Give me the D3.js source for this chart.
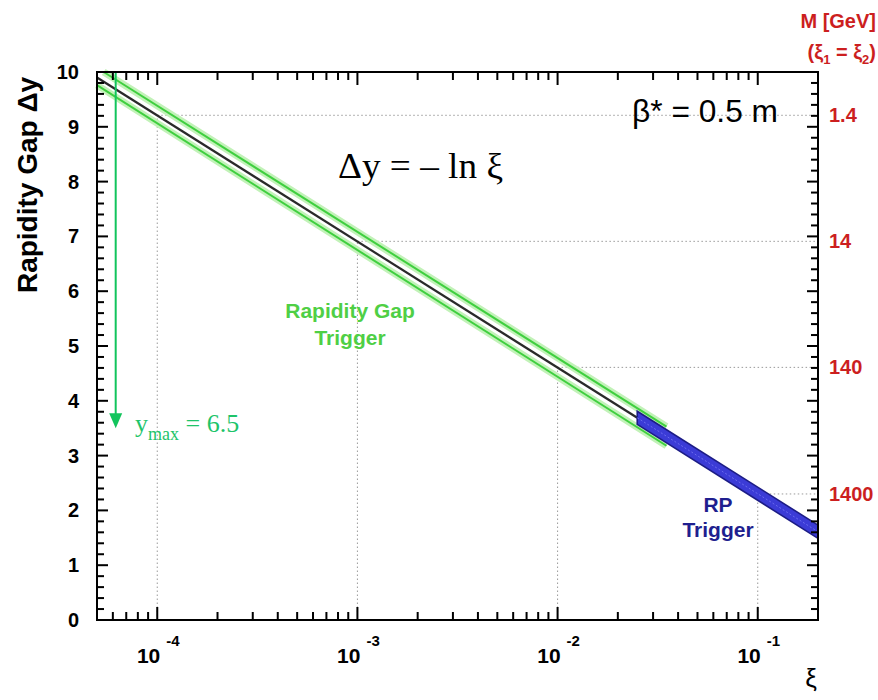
<!DOCTYPE html>
<html><head><meta charset="utf-8">
<script src="https://cdn.jsdelivr.net/npm/d3@7"></script>
<style>body{margin:0;background:#fff}svg{display:block}</style>
</head><body>
<svg id="c" width="878" height="700"></svg>
<script>
// ---- data ----
const xDomain = [5e-5, 0.2];
const yDomain = [0, 10];
const yTicks = [0,1,2,3,4,5,6,7,8,9,10];
const yMinorTicks = [0.2,0.4,0.6,0.8,1.2,1.4,1.6,1.8,2.2,2.4,2.6,2.8,3.2,3.4,3.6,3.8,4.2,4.4,4.6,4.8,5.2,5.4,5.6,5.8,6.2,6.4,6.6,6.8,7.2,7.4,7.6,7.8,8.2,8.4,8.6,8.8,9.2,9.4,9.6,9.8];
const decades = [1e-4, 1e-3, 1e-2, 1e-1];
const xMinorTicks = [6e-5,7e-5,8e-5,9e-5,2e-4,3e-4,4e-4,5e-4,6e-4,7e-4,8e-4,9e-4,2e-3,3e-3,4e-3,5e-3,6e-3,7e-3,8e-3,9e-3,2e-2,3e-2,4e-2,5e-2,6e-2,7e-2,8e-2,9e-2];
const decadeExp = ["-4", "-3", "-2", "-1"];
const decadeDy = [9.21, 6.91, 4.61, 2.30];          // Δy at each decade
const massLabels = ["1.4", "14", "140", "1400"];     // M [GeV] at each decade
// black line Δy = -ln ξ (read endpoints)
const lineXi = [5e-5, 0.025];
const lineDy = [9.90, 3.69];
// green band (rapidity gap trigger) edges
const greenUpXi = [5.4e-5, 0.035];
const greenUpDy = [10.0, 3.53];
const greenLoXi = [5e-5, 0.035];
const greenLoDy = [9.76, 3.18];
// blue band (RP trigger)
const blueXi = [0.025, 0.2];
const blueUpDy = [3.81, 1.73];
const blueLoDy = [3.57, 1.49];
// y_max arrow
const arrowXi = 6.2e-5;
const arrowDy = [10, 3.5];

const svg = d3.select("#c");
const L = 97, R = 818, T = 72, B = 620;
const x = d3.scaleLog().domain(xDomain).range([L, R]);
const y = d3.scaleLinear().domain(yDomain).range([B, T]);

const gridC = "#9a9a9a";
decades.forEach((d,i)=>{
  svg.append("line").attr("x1",x(d)).attr("x2",x(d)).attr("y1",B).attr("y2",y(decadeDy[i]))
    .attr("stroke",gridC).attr("stroke-width",1).attr("stroke-dasharray","1.5,2.5");
  svg.append("line").attr("x1",x(d)).attr("x2",R).attr("y1",y(decadeDy[i])).attr("y2",y(decadeDy[i]))
    .attr("stroke",gridC).attr("stroke-width",1).attr("stroke-dasharray","1.5,2.5");
});

const ln = d3.line().x(d=>x(d[0])).y(d=>y(d[1]));
[[greenUpXi,greenUpDy],[greenLoXi,greenLoDy]].forEach(([xs,ys])=>{
  const pts = xs.map((v,i)=>[v,ys[i]]);
  svg.append("path").attr("d",ln(pts)).attr("stroke","#c2f2b8").attr("stroke-width",7).attr("fill","none");
  svg.append("path").attr("d",ln(pts)).attr("stroke","#3fcf3f").attr("stroke-width",2).attr("fill","none");
});
svg.append("path").attr("d",ln(lineXi.map((v,i)=>[v,lineDy[i]])))
  .attr("stroke","#2a2a2a").attr("stroke-width",2.2).attr("fill","none");
const bandPts = blueXi.map((v,i)=>[v,blueUpDy[i]]).concat(blueXi.slice().reverse().map((v,i)=>[v,blueLoDy[blueXi.length-1-i]]));
svg.append("path").attr("d",ln(bandPts)+"Z").attr("fill","#3b3bd6").attr("stroke","#1c1c86").attr("stroke-width",1.6);
svg.append("path").attr("d",ln(blueXi.map((v,i)=>[v,(blueUpDy[i]+blueLoDy[i])/2])))
  .attr("stroke","#6a6aee").attr("stroke-width",1).attr("stroke-dasharray","2,2").attr("fill","none");

const ax = x(arrowXi);
svg.append("line").attr("x1",ax).attr("x2",ax).attr("y1",y(arrowDy[0])).attr("y2",y(arrowDy[1])-12)
  .attr("stroke","#12c45c").attr("stroke-width",2);
const tip = y(arrowDy[1]);
svg.append("path").attr("d",`M${ax-6.5},${tip-15}L${ax+6.5},${tip-15}L${ax},${tip}Z`).attr("fill","#12c45c");

// frame
svg.append("rect").attr("x",L).attr("y",T).attr("width",R-L).attr("height",B-T)
  .attr("fill","none").attr("stroke","#000").attr("stroke-width",2);

// ticks drawn as small filled rects
const tg = svg.append("g").attr("class","ticks");
const yTickData = yTicks.filter(v=>v>0 && v<10).map(v=>({v,len:11})).concat(yMinorTicks.map(v=>({v,len:7})));
tg.selectAll("rect.yl").data(yTickData).join("rect").attr("class","yl")
  .attr("x",L).attr("y",d=>y(d.v)-1).attr("width",d=>d.len).attr("height",2).attr("fill","#000");
tg.selectAll("rect.yr").data(yTickData).join("rect").attr("class","yr")
  .attr("x",d=>R-d.len).attr("y",d=>y(d.v)-1).attr("width",d=>d.len).attr("height",2).attr("fill","#000");
const xTickData = decades.map(v=>({v,len:13})).concat(xMinorTicks.map(v=>({v,len:8})));
tg.selectAll("rect.xb").data(xTickData).join("rect").attr("class","xb")
  .attr("x",d=>x(d.v)-1).attr("y",d=>B-d.len).attr("width",2).attr("height",d=>d.len).attr("fill","#000");
tg.selectAll("rect.xt").data(xTickData).join("rect").attr("class","xt")
  .attr("x",d=>x(d.v)-1).attr("y",T).attr("width",2).attr("height",d=>d.len).attr("fill","#000");

const sans = "Liberation Sans, Arial, sans-serif";
const serif = "Liberation Serif, Times New Roman, serif";
yTicks.forEach(v=>{
  svg.append("text").attr("x",79).attr("y",y(v)+7).attr("text-anchor","end")
    .attr("font-family",sans).attr("font-weight","bold").attr("font-size",20).text(v);
});
decades.forEach((d,i)=>{
  svg.append("text").attr("x",x(d)+3).attr("y",663).attr("text-anchor","end")
    .attr("font-family",sans).attr("font-weight","bold").attr("font-size",21).text("10");
  svg.append("text").attr("x",x(d)+9).attr("y",646)
    .attr("font-family",sans).attr("font-weight","bold").attr("font-size",15).text(decadeExp[i]);
});
decades.forEach((d,i)=>{
  svg.append("text").attr("x",829).attr("y",y(decadeDy[i])+7)
    .attr("font-family",sans).attr("font-weight","bold").attr("font-size",20).attr("fill","#cc1f1f").text(massLabels[i]);
});
svg.append("text").attr("x",876).attr("y",28).attr("text-anchor","end")
  .attr("font-family",sans).attr("font-weight","bold").attr("font-size",20).attr("fill","#cc1f1f").text("M [GeV]");
const mt = svg.append("text").attr("x",876).attr("y",59).attr("text-anchor","end")
  .attr("font-family",sans).attr("font-weight","bold").attr("font-size",20).attr("fill","#cc1f1f");
mt.append("tspan").text("(ξ");
mt.append("tspan").attr("font-size",13).attr("dy",5).text("1");
mt.append("tspan").attr("dy",-5).text(" = ξ");
mt.append("tspan").attr("font-size",13).attr("dy",5).text("2");
mt.append("tspan").attr("dy",-5).text(")");

svg.append("text").attr("transform","translate(37,185) rotate(-90)").attr("text-anchor","middle")
  .attr("font-family",sans).attr("font-weight","bold").attr("font-size",28).text("Rapidity Gap Δy");
svg.append("text").attr("x",811).attr("y",687).attr("text-anchor","middle")
  .attr("font-family",sans).attr("font-size",26).text("ξ");

svg.append("text").attr("x",632).attr("y",122).attr("font-family",sans).attr("font-size",31)
  .attr("textLength",146).attr("lengthAdjust","spacingAndGlyphs").text("β* = 0.5 m");
svg.append("text").attr("x",338).attr("y",178).attr("font-family",serif).attr("font-size",36)
  .attr("textLength",165).attr("lengthAdjust","spacingAndGlyphs").text("Δy = – ln ξ");
const ym = svg.append("text").attr("x",135).attr("y",432).attr("font-family",serif).attr("font-size",26).attr("fill","#1ec46a");
ym.append("tspan").text("y");
ym.append("tspan").attr("font-size",18).attr("dy",8).text("max");
ym.append("tspan").attr("dy",-8).text(" = 6.5");

[["Rapidity Gap",318],["Trigger",345]].forEach(([t,yy])=>{
  svg.append("text").attr("x",350).attr("y",yy).attr("text-anchor","middle")
    .attr("font-family",sans).attr("font-weight","bold").attr("font-size",21).attr("fill","#4fcf45").text(t);
});
[["RP",512],["Trigger",537]].forEach(([t,yy])=>{
  svg.append("text").attr("x",718).attr("y",yy).attr("text-anchor","middle")
    .attr("font-family",sans).attr("font-weight","bold").attr("font-size",21).attr("fill","#1f1f8f").text(t);
});
</script>
</body></html>
